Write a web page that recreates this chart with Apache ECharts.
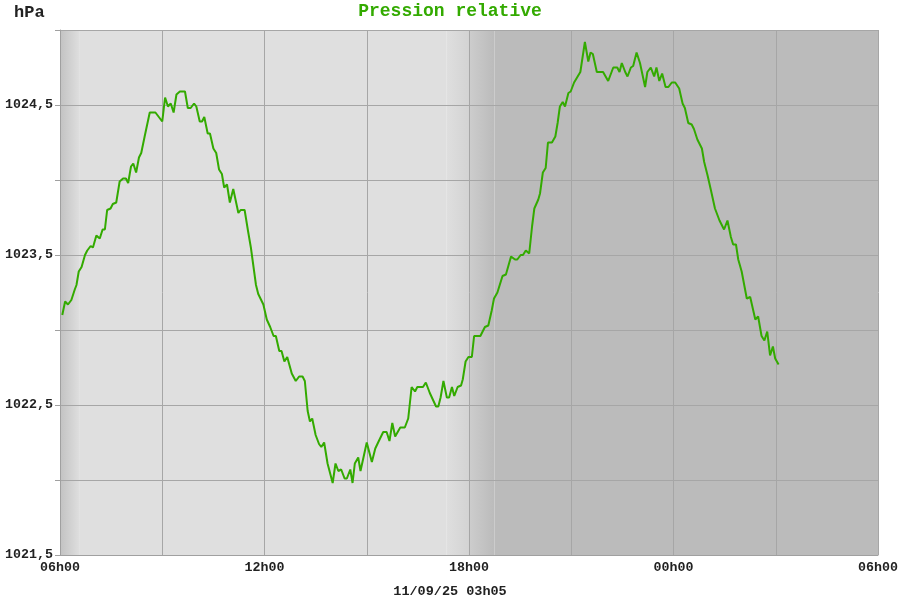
<!DOCTYPE html>
<html>
<head>
<meta charset="utf-8">
<script src="https://cdn.jsdelivr.net/npm/echarts@6/dist/echarts.min.js"></script>
<style>html,body{margin:0;padding:0;background:#fff;}#c{width:900px;height:600px;}</style>
</head>
<body>
<div id="c"></div>
<script>
// minutes since 06h00 (day before)
var minutesSince0600 = [4,9,14,20,26,29,33,38,44,48,54,58,64,70,75,79,83,89,93,99,105,111,116,120,125,129,134,139,143,149,158,168,180,185,190,195,200,205,211,220,225,230,236,240,246,250,254,260,264,270,275,280,285,289,294,299,305,314,318,325,331,336,345,349,358,364,370,376,380,386,390,395,400,408,415,421,427,431,436,440,444,450,456,460,465,471,480,485,490,495,501,505,511,515,519,525,529,540,549,555,560,563,569,575,580,585,590,599,607,613,619,625,629,639,644,651,662,666,670,675,681,685,690,694,700,706,709,714,719,725,729,740,748,754,760,764,770,779,785,794,801,805,811,815,820,826,831,835,842,845,850,855,859,866,872,876,880,885,889,895,899,905,916,924,930,934,938,945,956,965,974,981,985,989,995,999,1005,1009,1015,1021,1030,1034,1040,1046,1050,1055,1060,1066,1071,1077,1083,1090,1096,1100,1106,1112,1116,1122,1130,1134,1140,1146,1153,1161,1169,1175,1181,1185,1190,1194,1200,1209,1215,1224,1229,1235,1240,1245,1250,1255,1259,1265];
var pressure = [1023.10,1023.19,1023.17,1023.20,1023.27,1023.30,1023.39,1023.42,1023.50,1023.53,1023.56,1023.55,1023.63,1023.61,1023.67,1023.67,1023.80,1023.81,1023.84,1023.85,1023.99,1024.01,1024.01,1023.98,1024.09,1024.11,1024.05,1024.15,1024.18,1024.29,1024.45,1024.45,1024.39,1024.55,1024.49,1024.51,1024.45,1024.57,1024.59,1024.59,1024.48,1024.48,1024.51,1024.49,1024.39,1024.39,1024.42,1024.31,1024.31,1024.21,1024.18,1024.07,1024.04,1023.95,1023.97,1023.85,1023.94,1023.78,1023.80,1023.80,1023.66,1023.55,1023.30,1023.24,1023.17,1023.07,1023.02,1022.96,1022.96,1022.86,1022.86,1022.79,1022.82,1022.71,1022.66,1022.69,1022.69,1022.66,1022.46,1022.39,1022.41,1022.30,1022.24,1022.22,1022.25,1022.11,1021.98,1022.11,1022.06,1022.07,1022.01,1022.01,1022.07,1021.98,1022.11,1022.15,1022.06,1022.25,1022.12,1022.21,1022.25,1022.25,1022.32,1022.32,1022.26,1022.38,1022.29,1022.35,1022.35,1022.41,1022.62,1022.59,1022.62,1022.62,1022.65,1022.58,1022.49,1022.49,1022.55,1022.66,1022.55,1022.55,1022.62,1022.56,1022.62,1022.63,1022.67,1022.79,1022.82,1022.82,1022.96,1022.96,1023.02,1023.03,1023.13,1023.21,1023.25,1023.36,1023.37,1023.49,1023.47,1023.47,1023.50,1023.50,1023.53,1023.51,1023.69,1023.81,1023.87,1023.91,1024.05,1024.08,1024.25,1024.25,1024.29,1024.38,1024.49,1024.52,1024.49,1024.58,1024.59,1024.65,1024.72,1024.92,1024.79,1024.85,1024.84,1024.72,1024.72,1024.66,1024.75,1024.75,1024.72,1024.78,1024.72,1024.69,1024.75,1024.76,1024.85,1024.78,1024.62,1024.72,1024.75,1024.69,1024.75,1024.66,1024.71,1024.62,1024.62,1024.65,1024.65,1024.61,1024.51,1024.48,1024.38,1024.37,1024.34,1024.27,1024.21,1024.12,1024.03,1023.93,1023.81,1023.73,1023.67,1023.73,1023.62,1023.57,1023.57,1023.47,1023.39,1023.21,1023.22,1023.07,1023.09,1022.96,1022.93,1022.99,1022.83,1022.89,1022.81,1022.77];
var xTickLabels = ['06h00','12h00','18h00','00h00','06h00'];
var yTickLabels = ['1021,5','1022,5','1023,5','1024,5'];
var titleText = 'Pression relative';
var unitText = 'hPa';
var dateText = '11/09/25 03h05';
// shading: day then night (minutes since 06h00)
var dayStart = 0, dayFadeEnd = 35, duskStart = 680, nightStart = 720, nightFadeEnd = 765, windowEnd = 1440;

var LG = echarts.graphic.LinearGradient;
var data = minutesSince0600.map(function(m, i){ return [m, pressure[i]]; });
var font = '"Liberation Mono", "DejaVu Sans Mono", monospace';

var chart = echarts.init(document.getElementById('c'), null, {renderer: 'canvas'});
chart.setOption({
  animation: false,
  backgroundColor: '#ffffff',
  title: [
    {text: titleText, left: 'center', top: -3, textStyle: {fontFamily: font, fontWeight: 'bold', fontSize: 18, color: '#33aa00'}},
    {text: unitText, left: 9, top: -1, textStyle: {fontFamily: font, fontWeight: 'bold', fontSize: 17, color: '#222'}},
    {text: dateText, left: 'center', top: 585, padding: 0, textStyle: {fontFamily: font, fontWeight: 'bold', fontSize: 13.5, color: '#222'}}
  ],
  grid: {left: 60, right: 22, top: 30, bottom: 45, outerBoundsMode: 'none', containLabel: false},
  xAxis: {
    type: 'value', min: 0, max: windowEnd, interval: 180, z: 1,
    axisLine: {show: true, lineStyle: {color: '#a0a0a0', width: 1}},
    axisTick: {show: false},
    splitLine: {show: true, lineStyle: {color: '#a6a6a6', width: 1}},
    axisLabel: {
      showMinLabel: true, showMaxLabel: true, margin: 6,
      fontFamily: font, fontWeight: 'bold', fontSize: 13.3, color: '#222',
      formatter: function(v){ return v % 360 === 0 ? xTickLabels[v / 360] : ''; }
    }
  },
  yAxis: {
    type: 'value', min: 1021.5, max: 1025, interval: 0.5, z: 1,
    axisLine: {show: true, lineStyle: {color: '#a0a0a0', width: 1}},
    axisTick: {show: true, length: 5, lineStyle: {color: '#a0a0a0'}},
    splitLine: {show: true, lineStyle: {color: '#a6a6a6', width: 1}},
    axisLabel: {
      margin: 7, fontFamily: font, fontWeight: 'bold', fontSize: 13.3, color: '#222',
      formatter: function(v){
        var k = Math.round(v - 1021.5);
        return Math.abs(v - 1021.5 - k) < 1e-6 ? (yTickLabels[k] || '') : '';
      }
    }
  },
  series: [
    {
      type: 'line', z: 0, data: data, showSymbol: false, silent: true,
      lineStyle: {opacity: 0, width: 0},
      markArea: {
        silent: true, z: 0, zlevel: 0,
        data: [
          [{xAxis: dayStart, itemStyle: {color: new LG(0,0,1,0,[{offset:0,color:'#c2c2c2'},{offset:1,color:'#dfdfdf'}])}}, {xAxis: dayFadeEnd}],
          [{xAxis: dayFadeEnd, itemStyle: {color: '#dfdfdf'}}, {xAxis: duskStart}],
          [{xAxis: duskStart, itemStyle: {color: new LG(0,0,1,0,[{offset:0,color:'#dfdfdf'},{offset:1,color:'#d3d3d3'}])}}, {xAxis: nightStart}],
          [{xAxis: nightStart, itemStyle: {color: new LG(0,0,1,0,[{offset:0,color:'#cdcdcd'},{offset:1,color:'#bbbbbb'}])}}, {xAxis: nightFadeEnd}],
          [{xAxis: nightFadeEnd, itemStyle: {color: '#bbbbbb'}}, {xAxis: windowEnd}]
        ]
      }
    },
    {
      type: 'line', z: 2, data: data, showSymbol: false, smooth: false,
      lineStyle: {color: '#33aa00', width: 2},
      itemStyle: {color: '#33aa00'}
    }
  ]
});
</script>
</body>
</html>
